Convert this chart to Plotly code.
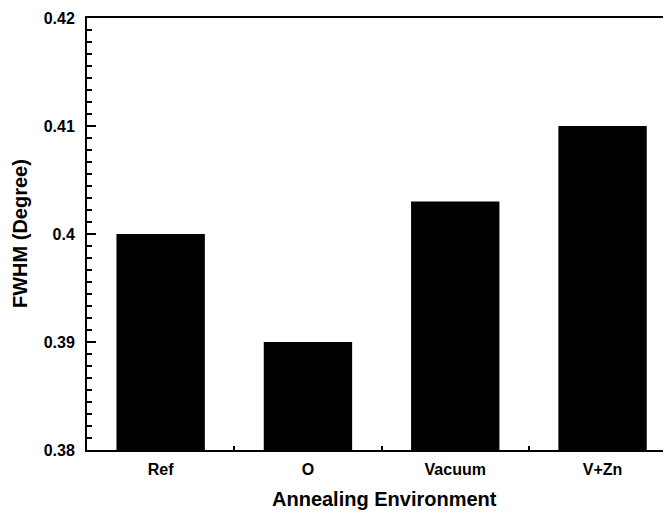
import plotly.graph_objects as go

categories = ["Ref", "O", "Vacuum", "V+Zn"]
fwhm = [0.400, 0.390, 0.403, 0.410]
y_tickvals = [0.38, 0.39, 0.40, 0.41, 0.42]
y_ticktext = ["0.38", "0.39", "0.4", "0.41", "0.42"]

FONT = "Liberation Sans, Arial, sans-serif"

# page body has an 8px margin; plot area in page: x 87..663, y 18..450
PL, PR, PT, PB = 87, 663, 18, 450
PW, PH = PR - PL, PB - PT
FW, FH = 655, 505
CAT_PX = 147.3  # pixels per category in the reference

fig = go.Figure()
fig.add_trace(go.Bar(
    x=categories, y=fwhm, width=0.6,
    marker=dict(color="black", line=dict(width=0)),
    showlegend=False,
))

fig.update_layout(
    width=FW, height=FH,
    margin=dict(l=PL - 8, r=FW - (PR - 8), t=PT - 8, b=FH - (PB - 8), pad=0),
    plot_bgcolor="white", paper_bgcolor="white",
    font=dict(family=FONT, color="black"),
    xaxis=dict(
        type="category", range=[-0.5, -0.5 + PW / CAT_PX],
        showline=True, linecolor="black", linewidth=2, mirror=True,
        ticks="inside", tickson="boundaries", ticklen=4, tickwidth=1.5, tickcolor="black",
        tickfont=dict(family=FONT, size=16, color="black", weight="bold"),
        ticklabelstandoff=4,
        showgrid=False, zeroline=False,
    ),
    yaxis=dict(
        range=[0.38, 0.42],
        tickvals=y_tickvals, ticktext=y_ticktext,
        showline=True, linecolor="black", linewidth=2, mirror=False,
        ticks="inside", ticklen=9, tickwidth=2, tickcolor="black",
        minor=dict(ticks="inside", ticklen=5, tickwidth=1.5, tickcolor="black",
                   tick0=0.38, dtick=0.01 / 9, showgrid=False),
        tickfont=dict(family=FONT, size=16, color="black", weight="bold"),
        ticklabelstandoff=7,
        showgrid=False, zeroline=False,
    ),
    annotations=[
        dict(
            text="Annealing Environment", xref="paper", yref="paper",
            x=(384 - PL) / PW, y=-(499 - PB) / PH, xanchor="center", yanchor="middle",
            showarrow=False,
            font=dict(family=FONT, size=20, color="black", weight="bold"),
        ),
        dict(
            text="FWHM (Degree)", xref="paper", yref="paper", textangle=-90,
            x=(20 - PL) / PW, y=(PB - 234) / PH, xanchor="center", yanchor="middle",
            showarrow=False,
            font=dict(family=FONT, size=20, color="black", weight="bold"),
        ),
    ],
)

fig.write_html("out.html")
